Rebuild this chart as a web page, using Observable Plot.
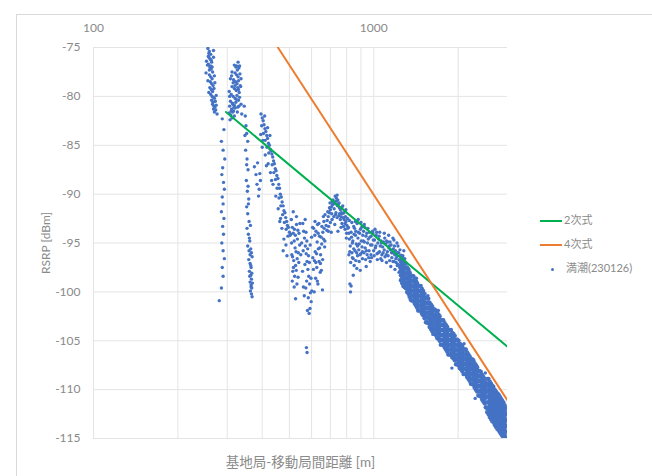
<!DOCTYPE html>
<html>
<head>
<meta charset="utf-8">
<script src="https://cdn.jsdelivr.net/npm/d3@7"></script>
<script src="https://cdn.jsdelivr.net/npm/@observablehq/plot@0.6"></script>
<style>
  html, body { margin: 0; padding: 0; background: #fff; }
  #wrap { position: relative; width: 652px; height: 476px; overflow: hidden;
          font-family: Lato, "Noto Sans CJK JP", sans-serif; }
  #frame { position: absolute; left: 16px; top: 14px; width: 700px; height: 500px;
           border-left: 1px solid #d9d9d9; border-top: 1px solid #d9d9d9; }
  #chart { position: absolute; left: 0; top: 0; }
  #legend { position: absolute; left: 540px; top: 212px; font-size: 11px; color: #8a8a8a; }
  .item { position: absolute; left: 0; white-space: nowrap; height: 16px; line-height: 16px; }
  .sw { display: inline-block; width: 22px; height: 2px; vertical-align: middle; margin-right: 2px; }
  .dotsw { display: inline-block; width: 3px; height: 3px; border-radius: 50%; background: #4472C4;
           vertical-align: middle; margin-left: 11px; margin-right: 12px; }
</style>
</head>
<body>
<div id="wrap">
  <div id="frame"></div>
  <div id="chart"></div>
  <div id="legend"></div>
</div>
<script>
// ---- axis ticks / labels ----
const xTickLabels = [100, 1000];
const xGrid = [100, 200, 300, 400, 500, 600, 700, 800, 900, 1000, 2000];
const yTicks = [-115, -110, -105, -100, -95, -90, -85, -80, -75];
const xTitle = "基地局-移動局間距離 [m]";
const yTitle = "RSRP [dBm]";
const seriesNames = ["2次式", "4次式", "満潮(230126)"];

// ---- fitted lines (distance m, RSRP dBm) ----
const fit2Dist = [297, 3000];
const fit2Rsrp = [-81.6, -105.6];
const fit4Dist = [455, 3000];
const fit4Rsrp = [-75, -111.1];

// ---- measured points [distance m, RSRP dBm] ----
const segA = [[256,-75.1],[259,-75.4],[262,-75.7],[258,-76.0],[261,-76.2],[264,-76.5],[257,-76.7],[260,-77.0],[263,-77.2],[266,-77.5],[259,-77.8],[262,-78.0],[265,-78.2],[261,-78.5],[264,-78.7],[267,-78.9],[260,-79.1],[263,-79.3],[266,-79.5],[269,-79.2],[262,-79.8],[265,-80.0],[268,-80.1],[264,-80.4],[267,-80.6],[270,-80.2],[266,-80.8],[269,-81.0],[272,-80.5],[268,-81.3],[271,-81.1],[274,-80.9],[270,-81.6],[273,-81.4],[276,-81.8],[258,-75.6],[263,-76.3],[259,-77.3],[265,-77.0],[262,-76.9],[257,-75.9],
  [255,-76.8],[268,-76.0],[252,-77.6],[270,-77.9],[256,-78.4],[268,-75.3],[253,-76.4],[271,-78.6],[258,-79.6],[274,-79.9]];
const segA2 = [[288,-82.3],[292,-83.4],[286,-84.6],[290,-85.5],[294,-86.4],[289,-87.3],[287,-88.0],[291,-88.8],[293,-89.5],[288,-90.3],[290,-91.0],[286,-91.8],[292,-92.5],[289,-93.3],[291,-94.1],[287,-95.0],[290,-95.8],[293,-96.6],[288,-97.5],[290,-98.4],[286,-99.6],[281,-100.9]];
const segB = [[318,-76.8],[322,-77.0],[326,-77.3],[330,-77.1],[320,-77.6],[324,-77.8],[328,-78.0],[333,-77.7],[316,-78.3],[321,-78.5],[325,-78.7],[329,-78.4],[334,-78.9],[312,-79.0],[318,-79.2],[323,-79.4],[327,-79.1],[331,-79.6],[310,-79.8],[315,-80.0],[320,-80.2],[325,-79.9],[329,-80.4],[308,-80.5],[313,-80.7],[318,-80.9],[322,-80.6],[327,-81.1],[306,-81.0],[311,-81.3],[316,-81.5],[320,-81.2],[305,-81.7],[309,-81.9],[314,-81.6],[318,-82.0],[307,-82.4],[312,-82.2],[336,-80.8],[338,-81.8],
  [305,-79.5],[308,-78.2],[311,-77.9],[314,-80.8],[317,-81.1],[320,-78.9],[323,-80.3],[326,-81.6],[329,-79.3],[332,-80.1],[335,-79.0],[310,-81.5],[315,-78.6],[330,-81.0],[306,-80.0],[324,-76.9],[328,-76.5],[332,-76.9],[312,-77.5],[336,-78.2]];
const segB2 = [[345,-81.0],[348,-82.0],[350,-83.0],[352,-83.8],[355,-84.6],[349,-85.5],[353,-86.4],[356,-87.5],[351,-88.6],[354,-89.7],[358,-90.5],[352,-91.3],[355,-92.0],[359,-92.8],[353,-93.5],[357,-94.1],[361,-94.8],[355,-95.3],[359,-95.8],[362,-96.2],[358,-96.7],[362,-97.1],[365,-97.5],[360,-97.9],[364,-98.3],[366,-98.7],[362,-99.0],[365,-99.3],[367,-99.6],[363,-99.9],[366,-100.2],[368,-100.5],[364,-97.3],[367,-98.1],[365,-99.5],[366,-96.0],[375,-87.2],[380,-88.0],[385,-86.8],[390,-89.5],[392,-87.9],[388,-90.2],[383,-89.0],[394,-88.6],
  [357,-91.0],[363,-93.2],[360,-94.5],[364,-95.6],[368,-96.4],[361,-98.4],[369,-99.1],[356,-89.2],[352,-87.0],[347,-84.0]];
const segC = [[396,-81.8],[400,-82.2],[403,-82.5],[398,-83.0],[406,-82.9],[409,-83.3],[404,-83.8],[412,-83.6],[415,-84.0],[410,-84.5],[418,-84.3],[421,-84.8],[416,-85.2],[424,-85.0],[427,-85.4],[422,-85.8],[430,-85.6],[433,-85.9],[436,-86.2],[439,-86.6],[434,-87.0],[442,-86.9],[445,-87.4],[440,-87.8],[448,-87.6],[451,-88.1],[446,-88.5],[455,-88.4],[458,-89.0],[452,-89.4],[461,-89.4],[464,-90.0],[459,-90.4],[468,-90.3],[471,-90.8],[466,-91.2],[475,-91.2],[478,-91.7],[473,-92.1],[482,-91.9],[485,-92.4],[480,-92.9],[489,-92.8],[492,-93.2],[487,-93.6],[496,-93.4],[500,-93.9],[494,-94.3],[503,-94.2],[470,-93.5],[478,-94.6],[486,-95.2],[462,-92.8],[490,-96.3],[475,-95.8],
  [402,-84.5],[410,-86.0],[420,-86.9],[428,-87.8],[437,-89.0],[447,-90.2],[456,-91.5],[465,-92.5],[408,-82.0],[418,-83.2],[426,-84.0],[400,-85.2],[395,-83.9],[414,-87.1],[432,-88.6]];
const segD = [[508,-92.6],[512,-93.4],[516,-94.0],[520,-94.8],[524,-95.5],[510,-96.2],[518,-96.8],[526,-97.3],[530,-93.1],[514,-97.9],[522,-98.4],[528,-95.9],[534,-94.6],[538,-96.0],[512,-98.9],[520,-99.5],[532,-99.2],[540,-97.0],[544,-95.2],[526,-100.7],[536,-93.7],[516,-91.8],[530,-92.3],
  [558,-93.0],[562,-93.8],[566,-94.5],[570,-95.3],[574,-96.1],[578,-96.9],[582,-97.7],[586,-98.4],[590,-99.2],[594,-100.1],[598,-101.0],[560,-95.8],[568,-97.2],[576,-98.9],[584,-100.6],[592,-101.7],[600,-94.4],[606,-96.5],[572,-99.6],[580,-101.9],[588,-102.2],[575,-105.7],[578,-106.2],
  [610,-93.5],[616,-94.2],[622,-93.8],[628,-94.9],[634,-95.6],[640,-94.3],[646,-96.2],[652,-95.1],[658,-93.9],[664,-92.8],[670,-92.1],[614,-96.8],[626,-97.5],[638,-96.9],[650,-97.8],[662,-94.6],[620,-98.6],[632,-99.2],[644,-98.0],[656,-99.8],[668,-95.4],[618,-95.9],[630,-93.1],
  [505,-94.1],[509,-95.0],[513,-96.4],[517,-97.5],[521,-93.6],[525,-94.2],[529,-97.8],[533,-96.6],[537,-98.5],[541,-94.0],[545,-93.0],[549,-96.2],[553,-95.0],[557,-97.9],[561,-99.5],[565,-100.4],[569,-92.6],[573,-93.9],[577,-94.8],[581,-95.6],[585,-96.3],[589,-97.0],[593,-95.2],[597,-98.6],[601,-99.9],[605,-93.4],[609,-97.7],[613,-100.0],[617,-92.8],[621,-97.0],[625,-96.1],[629,-98.9],[633,-94.0],[637,-93.0],[641,-95.5],[645,-97.1],[649,-94.4],[653,-93.3],[657,-96.7],[661,-92.3],[665,-93.5],[669,-94.8]];
const segE = [[676,-93.2],[682,-92.7],[688,-92.3],[694,-91.9],[700,-91.6],[706,-91.3],[712,-91.1],[718,-90.9],[724,-90.8],[730,-91.0],[736,-90.7],[742,-91.2],[748,-91.0],[754,-91.4],[760,-91.6],[766,-91.9],[772,-92.0],[778,-92.4],[784,-92.6],[790,-93.0],[796,-92.8],[802,-93.2],[808,-93.5],
  [680,-93.7],[690,-93.3],[700,-92.9],[710,-92.6],[720,-92.3],[730,-92.1],[740,-92.4],[750,-92.2],[760,-92.6],[770,-93.0],[780,-93.3],[790,-93.6],[800,-94.0],
  [695,-91.4],[715,-90.6],[735,-90.4],[755,-92.0],[775,-91.2],[795,-91.6],[705,-93.9],[745,-93.8],
  [685,-91.8],[698,-90.9],[708,-92.0],[722,-91.5],[733,-91.9],[744,-90.6],[752,-90.9],[763,-92.3],[770,-91.4],[783,-91.9],[792,-92.3],[805,-92.5],[688,-93.8],[726,-93.1],[764,-93.4],[798,-94.5],[710,-90.8],[728,-90.2],[740,-90.1]];
const segF = [[812,-93.4],[818,-94.6],[824,-95.3],[830,-93.9],[836,-96.0],[842,-94.8],[848,-95.6],[854,-93.5],[860,-94.2],[866,-95.1],[872,-93.0],[878,-94.5],[884,-95.7],[890,-94.0],[896,-93.6],[902,-94.8],[908,-95.4],[914,-94.2],[920,-93.8],[926,-94.9],[932,-95.5],[938,-94.3],[944,-94.0],[950,-95.0],[956,-94.6],[962,-95.8],[968,-94.4],[974,-95.2],
  [815,-96.2],[827,-97.0],[839,-96.5],[851,-97.3],[863,-96.8],[875,-96.3],[887,-96.9],[899,-96.1],[911,-96.6],[923,-96.0],[935,-96.7],[947,-96.2],[959,-96.5],[971,-96.9],
  [822,-99.2],[826,-100.0],[830,-99.4],[845,-98.3],[880,-92.6],[900,-92.9],[925,-93.1],[860,-92.8],
  [815,-94.0],[821,-95.9],[833,-94.4],[839,-95.0],[845,-96.6],[851,-94.1],[857,-95.8],[863,-93.8],[869,-96.0],[875,-95.3],[881,-93.9],[887,-95.1],[893,-96.2],[905,-93.4],[911,-95.9],[917,-94.8],[929,-93.4],[941,-95.8],[953,-93.5],[965,-93.9],[977,-96.2],[835,-92.9],[848,-93.3],[818,-92.7],[870,-97.6],[895,-97.8],[940,-97.4]];
const segG = [[978,-94.3],[985,-95.2],[992,-94.0],[999,-95.8],[1006,-94.7],[1013,-95.5],[1020,-94.2],[1027,-96.1],[1034,-95.0],[1041,-94.6],[1048,-95.9],[1055,-95.3],[1062,-94.8],[1069,-96.2],[1076,-95.4],[1083,-94.9],[1090,-95.7],[1097,-96.4],[1104,-95.1],[1111,-94.8],[1118,-95.9],[1125,-96.3],[1132,-95.5],[1139,-96.8],[1146,-95.7],[1153,-95.2],[1160,-96.5],[1167,-96.0],[1174,-95.6],[1181,-96.9],[1188,-96.2],[1195,-95.8],[1202,-97.0],[1209,-96.4],[1216,-96.0],[1223,-97.2],[1230,-96.7],[1237,-97.5],[1244,-96.9],
  [990,-93.8],[1010,-93.6],[1030,-96.7],[1050,-93.9],[1070,-96.8],[1090,-94.0],[1110,-97.0],[1130,-94.2],[1150,-97.4],[1170,-94.5],[1190,-97.7],[1210,-95.0],[1230,-98.0],
  [1280,-95.8],[1270,-96.3],[1290,-96.6],
  [982,-96.5],[996,-94.7],[1003,-96.3],[1017,-95.3],[1024,-93.9],[1038,-96.0],[1045,-94.3],[1059,-96.6],[1066,-95.0],[1080,-96.0],[1094,-94.5],[1108,-96.2],[1122,-94.9],[1136,-95.3],[1143,-94.9],[1157,-96.0],[1171,-96.9],[1185,-95.3],[1199,-96.6],[1213,-97.3],[1227,-96.0],[1241,-97.9],[1180,-94.7],[1220,-95.3],[1240,-95.7]];
const tailDist = [1250,1275,1300,1330,1355,1385,1415,1440,1470,1500,1535,1565,1600,1630,1665,1700,1735,1770,1810,1845,1885,1925,1965,2005,2045,2090,2130,2175,2220,2265,2315,2360,2410,2460,2510,2565,2620,2670,2730,2785,2840,2900,2960];
const tailRsrp = [
  [-96.3,-96.8,-97.3,-97.8,-98.3,-98.8],
  [-96.9,-97.4,-97.9,-98.4,-98.9,-99.4],
  [-97.1,-97.6,-98.1,-98.6,-99.1,-99.6],
  [-97.7,-98.2,-98.7,-99.2,-99.7,-100.2],
  [-98.3,-98.8,-99.3,-99.8,-100.3,-100.8],
  [-98.4,-98.9,-99.4,-99.9,-100.4,-100.9],
  [-98.9,-99.4,-99.9,-100.4,-100.9,-101.4],
  [-99.4,-99.9,-100.4,-100.9,-101.4,-101.9],
  [-99.4,-99.9,-100.4,-100.9,-101.4,-101.9],
  [-99.9,-100.4,-100.9,-101.4,-101.9,-102.4],
  [-100.6,-101.1,-101.6,-102.1,-102.6,-103.1],
  [-100.7,-101.2,-101.7,-102.2,-102.7,-103.2],
  [-101.3,-101.8,-102.3,-102.8,-103.3,-103.8],
  [-101.8,-102.3,-102.8,-103.3,-103.8,-104.3],
  [-101.9,-102.4,-102.9,-103.4,-103.9,-104.4],
  [-102.3,-102.8,-103.3,-103.8,-104.3,-104.8],
  [-102.9,-103.4,-103.9,-104.4,-104.9,-105.4],
  [-102.9,-103.4,-103.9,-104.4,-104.9,-105.4],
  [-103.4,-103.9,-104.4,-104.9,-105.4,-105.9],
  [-103.9,-104.4,-104.9,-105.4,-105.9,-106.4],
  [-103.9,-104.4,-104.9,-105.4,-105.9,-106.4],
  [-104.3,-104.8,-105.3,-105.8,-106.3,-106.8],
  [-104.9,-105.4,-105.9,-106.4,-106.9,-107.4],
  [-105.0,-105.5,-106.0,-106.5,-107.0,-107.5],
  [-105.4,-105.9,-106.4,-106.9,-107.4,-107.9],
  [-105.9,-106.4,-106.9,-107.4,-107.9,-108.4],
  [-105.9,-106.4,-106.9,-107.4,-107.9,-108.4],
  [-106.4,-106.9,-107.4,-107.9,-108.4,-108.9],
  [-106.9,-107.4,-107.9,-108.4,-108.9,-109.4],
  [-107.0,-107.5,-108.0,-108.5,-109.0,-109.5],
  [-107.5,-108.0,-108.5,-109.0,-109.5,-110.0],
  [-108.1,-108.6,-109.1,-109.6,-110.1,-110.6],
  [-108.2,-108.7,-109.2,-109.7,-110.2,-110.7],
  [-108.7,-109.2,-109.7,-110.2,-110.7,-111.2],
  [-109.3,-109.8,-110.3,-110.8,-111.3,-111.8],
  [-108.9,-109.5,-110.1,-110.7,-111.3,-111.9,-112.5],
  [-109.4,-110.0,-110.6,-111.2,-111.8,-112.4,-113.0],
  [-109.7,-110.3,-110.9,-111.5,-112.1,-112.7,-113.3],
  [-110.2,-110.8,-111.4,-112.0,-112.6,-113.2,-113.8],
  [-110.5,-111.1,-111.7,-112.3,-112.9,-113.5,-114.1],
  [-110.9,-111.5,-112.1,-112.7,-113.3,-113.9,-114.5],
  [-111.3,-111.9,-112.5,-113.1,-113.7,-114.3,-114.9],
  [-111.9,-112.5,-113.1,-113.7,-114.3,-114.9]
];
const tailDist2 = [1262,1288,1315,1342,1370,1400,1428,1455,1485,1518,1550,1582,1615,1648,1682,1718,1752,1790,1828,1865,1905,1945,1985,2025,2068,2110,2152,2198,2242,2290,2338,2385,2435,2485,2538,2592,2645,2700,2758,2812,2870,2930];
const tailRsrp2 = [
  [-96.6,-97.1,-97.6,-98.1,-98.6,-99.1],
  [-97.0,-97.5,-98.0,-98.5,-99.0,-99.5],
  [-97.5,-98.0,-98.5,-99.0,-99.5,-100.0],
  [-98.0,-98.5,-99.0,-99.5,-100.0,-100.5],
  [-98.4,-98.9,-99.4,-99.9,-100.4,-100.9],
  [-98.7,-99.2,-99.7,-100.2,-100.7,-101.2],
  [-99.1,-99.6,-100.1,-100.6,-101.1,-101.6],
  [-99.4,-99.9,-100.4,-100.9,-101.4,-101.9],
  [-99.7,-100.2,-100.7,-101.2,-101.7,-102.2],
  [-100.2,-100.7,-101.2,-101.7,-102.2,-102.7],
  [-100.6,-101.1,-101.6,-102.1,-102.6,-103.1],
  [-101.1,-101.6,-102.1,-102.6,-103.1,-103.6],
  [-101.5,-102.0,-102.5,-103.0,-103.5,-104.0],
  [-101.8,-102.3,-102.8,-103.3,-103.8,-104.3],
  [-102.2,-102.7,-103.2,-103.7,-104.2,-104.7],
  [-102.5,-103.0,-103.5,-104.0,-104.5,-105.0],
  [-102.9,-103.4,-103.9,-104.4,-104.9,-105.4],
  [-103.2,-103.7,-104.2,-104.7,-105.2,-105.7],
  [-103.6,-104.1,-104.6,-105.1,-105.6,-106.1],
  [-103.9,-104.4,-104.9,-105.4,-105.9,-106.4],
  [-104.2,-104.7,-105.2,-105.7,-106.2,-106.7],
  [-104.5,-105.0,-105.5,-106.0,-106.5,-107.0],
  [-104.9,-105.4,-105.9,-106.4,-106.9,-107.4],
  [-105.3,-105.8,-106.3,-106.8,-107.3,-107.8],
  [-105.6,-106.1,-106.6,-107.1,-107.6,-108.1],
  [-105.9,-106.4,-106.9,-107.4,-107.9,-108.4],
  [-106.2,-106.7,-107.2,-107.7,-108.2,-108.7],
  [-106.6,-107.1,-107.6,-108.1,-108.6,-109.1],
  [-106.9,-107.4,-107.9,-108.4,-108.9,-109.4],
  [-107.3,-107.8,-108.3,-108.8,-109.3,-109.8],
  [-107.7,-108.2,-108.7,-109.2,-109.7,-110.2],
  [-108.1,-108.6,-109.1,-109.6,-110.1,-110.6],
  [-108.5,-109.0,-109.5,-110.0,-110.5,-111.0],
  [-108.9,-109.4,-109.9,-110.4,-110.9,-111.4],
  [-108.9,-109.5,-110.1,-110.7,-111.3,-111.9,-112.3],
  [-109.2,-109.8,-110.4,-111.0,-111.6,-112.2,-112.8],
  [-109.6,-110.2,-110.8,-111.4,-112.0,-112.6,-113.2],
  [-110.0,-110.6,-111.2,-111.8,-112.4,-113.0,-113.6],
  [-110.4,-111.0,-111.6,-112.2,-112.8,-113.4,-114.0],
  [-110.7,-111.3,-111.9,-112.5,-113.1,-113.7,-114.3],
  [-111.1,-111.7,-112.3,-112.9,-113.5,-114.1,-114.7],
  [-111.6,-112.2,-112.8,-113.4,-114.0,-114.6,-115.0]
];
const tailOutliers = [[1420,-98.6],[1560,-100.4],[1700,-101.9],[2100,-105.3],[2500,-108.3],[1900,-107.8],[2300,-110.9]];

// ---- build tables ----
const tail = tailDist.flatMap((d, i) => (tailRsrp[i] || []).map(r => [d, r]));
const tail2 = tailDist2.flatMap((d, i) => (tailRsrp2[i] || []).map(r => [d, r]));
const toRows = arr => arr.map(([d, r]) => ({d, r}));
const measuredNear = toRows([...segA, ...segA2, ...segB, ...segB2, ...segC, ...segD, ...segE, ...segF, ...segG, ...tailOutliers]);
const measuredTail = toRows([...tail, ...tail2]);
const fit2 = fit2Dist.map((d, i) => ({d, r: fit2Rsrp[i]}));
const fit4 = fit4Dist.map((d, i) => ({d, r: fit4Rsrp[i]}));

const BLUE = "#4472C4", GREEN = "#00B050", ORANGE = "#ED7D31", TEXT = "#8a8a8a", GRID = "#e4e4e4";

const chart = Plot.plot({
  width: 652,
  height: 476,
  marginLeft: 93,
  marginRight: 145,
  marginTop: 47,
  marginBottom: 38,
  style: {fontFamily: 'Lato, "Noto Sans CJK JP", sans-serif', fontSize: "12px", color: TEXT, background: "transparent"},
  x: {type: "log", domain: [100, 3000], axis: "top", ticks: xTickLabels, tickFormat: d => String(d), tickSize: 0, tickPadding: 16, label: null},
  y: {domain: [-115, -75], ticks: yTicks, tickFormat: d => String(d), tickSize: 0, tickPadding: 13, label: yTitle, labelAnchor: "center", labelOffset: 52, labelArrow: "none"},
  marks: [
    Plot.gridX(xGrid, {stroke: GRID, strokeOpacity: 1}),
    Plot.gridY(yTicks, {stroke: GRID, strokeOpacity: 1}),
    Plot.dot(measuredNear, {x: "d", y: "r", r: 1.7, fill: BLUE, stroke: null, clip: true}),
    Plot.dot(measuredTail, {x: "d", y: "r", r: 2.2, fill: BLUE, stroke: null, clip: true}),
    Plot.line(fit2, {x: "d", y: "r", stroke: GREEN, strokeWidth: 2, clip: true}),
    Plot.line(fit4, {x: "d", y: "r", stroke: ORANGE, strokeWidth: 2, clip: true}),
    Plot.text([xTitle], {frameAnchor: "bottom", lineAnchor: "middle", dy: 24, fontSize: 13.5, fill: TEXT})
  ]
});
document.getElementById("chart").appendChild(chart);

// ---- legend ----
const legend = document.getElementById("legend");
const legendItems = [
  {name: seriesNames[0], kind: "line", color: GREEN},
  {name: seriesNames[1], kind: "line", color: ORANGE},
  {name: seriesNames[2], kind: "dot", color: BLUE}
];
legendItems.forEach((it, i) => {
  const div = document.createElement("div");
  div.className = "item";
  div.style.top = (i * 24) + "px";
  const sw = document.createElement("span");
  if (it.kind === "line") { sw.className = "sw"; sw.style.background = it.color; }
  else { sw.className = "dotsw"; }
  div.appendChild(sw);
  div.appendChild(document.createTextNode(it.name));
  legend.appendChild(div);
});
</script>
</body>
</html>
